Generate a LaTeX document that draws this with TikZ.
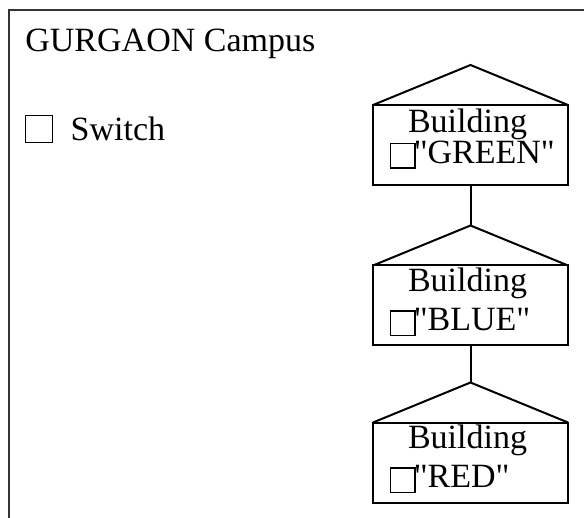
\documentclass[tikz,border=0pt]{standalone}
\usepackage{fontspec}
\setmainfont{Liberation Serif}[Ligatures=TeXOff]
\usetikzlibrary{positioning}
\newcommand{\tickbox}{\raisebox{-2pt}{\setlength{\fboxsep}{0pt}\setlength{\fboxrule}{0.7pt}\fbox{\rule{0pt}{11.5pt}\rule{11.5pt}{0pt}}}\kern-1pt}
\newcommand{\lowstrut}[1]{\rule[-#1]{0pt}{#1}}
\tikzset{
    frameline/.style={draw=black!80, line width=1pt},
    house/.style={rectangle, draw, line width=1pt, outer sep=0pt, minimum width=97.5pt, minimum height=40pt, text width=80.5pt, align=left, inner xsep=4pt, inner ysep=0.5pt, font=\fontsize{17pt}{19.5pt}\selectfont},
    roof/.style={line width=1pt, line join=miter},
    link/.style={line width=1pt},
    caption/.style={font=\fontsize{17pt}{20pt}\selectfont, inner sep=0pt},
    switchbox/.style={rectangle, draw, line width=0.8pt, minimum size=13.5pt, inner sep=0pt}
}

\begin{document}
\begin{tikzpicture}[x=0.5pt, y=-0.5pt]
\useasboundingbox (0,0) rectangle (584,518);

% campus frame
\draw[frameline] (584,10) -- (9,10) -- (9,518);

\node[caption, anchor=base west] (campus) at (25,52) {GURGAON Campus};
\node[switchbox] (switchbox) at (39,129) {};
\node[caption, right=8.5pt of switchbox] (switch) {Switch};

% buildings
\node[house] (green) at (470.5,145) {\rule{9pt}{0pt}Building\\[-4pt]\tickbox"GREEN"\lowstrut{9pt}};
\node[house] (blue) at (470.5,305.5) {\rule{9pt}{0pt}Building\\\tickbox"BLUE"\lowstrut{6pt}};
\node[house] (red) at (470.5,462.5) {\rule{9pt}{0pt}Building\\\tickbox"RED"\lowstrut{6pt}};

\coordinate[above=20pt of green.north] (greentop);
\coordinate[above=20pt of blue.north] (bluetop);
\coordinate[above=20pt of red.north] (redtop);

\draw[roof] (green.north west) -- (greentop) -- (green.north east);
\draw[roof] (blue.north west) -- (bluetop) -- (blue.north east);
\draw[roof] (red.north west) -- (redtop) -- (red.north east);

\draw[link] (green.south) -- (bluetop);
\draw[link] (blue.south) -- (redtop);

\end{tikzpicture}
\end{document}
